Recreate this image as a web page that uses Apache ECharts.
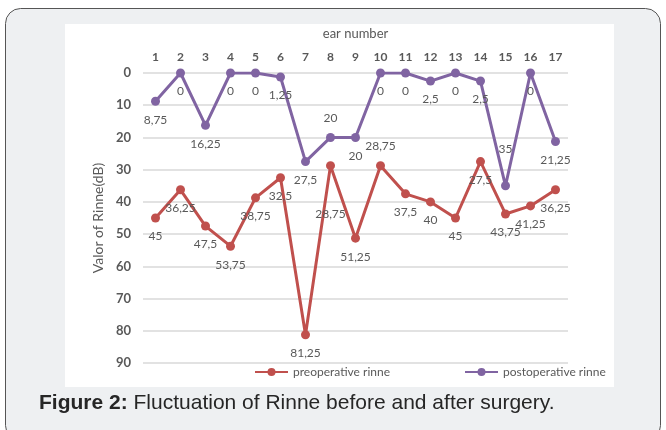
<!DOCTYPE html>
<html>
<head>
<meta charset="utf-8">
<script src="https://cdn.jsdelivr.net/npm/echarts@6/dist/echarts.min.js"></script>
<style>
  html, body { margin: 0; padding: 0; background: #fff; }
  #chart { width: 666px; height: 430px; }
</style>
</head>
<body>
<div id="chart"></div>
<script>
'use strict';

// ear number 1..17
var earNumbers = ['1', '2', '3', '4', '5', '6', '7', '8', '9', '10', '11', '12', '13', '14', '15', '16', '17'];
var preRinne = [45, 36.25, 47.5, 53.75, 38.75, 32.5, 81.25, 28.75, 51.25, 28.75, 37.5, 40, 45, 27.5, 43.75, 41.25, 36.25];
var postRinne = [8.75, 0, 16.25, 0, 0, 1.25, 27.5, 20, 20, 0, 0, 2.5, 0, 2.5, 35, 0, 21.25];
var yTicks = [0, 10, 20, 30, 40, 50, 60, 70, 80, 90];

// labels that sit above their point (everything else is below)
var preLabelsAbove = [9];
var postLabelsAbove = [7, 14];
// a few labels sit further off their point, like in the original
var preLabelGap = { 7: 38 };
var postLabelGap = { 14: 26 };

var chart = echarts.init(document.getElementById('chart'));

var labelText = '#595959';
var font = 'Lato, "Open Sans", sans-serif';
var capFont = '"Liberation Sans", Arial, sans-serif';

function fmt(v) {
    return String(v).replace('.', ',');
}

function withLabels(values, above, gaps) {
    return values.map(function(v, i) {
        var up = above.indexOf(i) >= 0;
        var d = gaps[i] !== undefined ? gaps[i] : (up ? 9 : 8);
        return {
            value: v,
            label: { position: up ? 'top' : 'bottom', distance: d }
        };
    });
}

var option = {
    animation: false,
    backgroundColor: '#ffffff',
    textStyle: { fontFamily: font },
    graphic: [
        {
            type: 'rect', z: -10, silent: true,
            shape: { x: 5.5, y: 8.5, width: 655, height: 432, r: 15 },
            style: { fill: '#eef0f2', stroke: '#555', lineWidth: 1 }
        },
        {
            type: 'rect', z: -9, silent: true,
            shape: { x: 65, y: 24, width: 549, height: 363 },
            style: { fill: '#ffffff' }
        },
        {
            type: 'text', left: 39, top: 393, silent: true,
            style: {
                text: '{b|Figure 2:} Fluctuation of Rinne before and after surgery.',
                fill: '#262626',
                font: '21px ' + capFont,
                rich: {
                    b: { fontWeight: 'bold', fontSize: 21, fontFamily: capFont, fill: '#262626' }
                }
            }
        }
    ],
    grid: { left: 143, right: 98, top: 73, bottom: 67 },
    legend: {
        left: 249, top: 361,
        itemWidth: 33, itemHeight: 10, itemGap: 74,
        textStyle: { color: labelText, fontSize: 12, fontFamily: font },
        data: ['preoperative rinne', 'postoperative rinne']
    },
    xAxis: {
        type: 'category',
        position: 'top',
        data: earNumbers,
        boundaryGap: true,
        name: 'ear number',
        nameLocation: 'middle',
        nameGap: 33,
        nameTextStyle: { color: labelText, fontSize: 13, fontFamily: font },
        axisLine: { show: false },
        axisTick: { show: false },
        axisLabel: { color: labelText, fontSize: 12, fontWeight: 'bold', margin: 10, fontFamily: font }
    },
    yAxis: {
        type: 'value',
        inverse: true,
        min: yTicks[0],
        max: yTicks[yTicks.length - 1],
        interval: 10,
        name: 'Valor of Rinne(dB)',
        nameLocation: 'middle',
        nameGap: 36,
        nameTextStyle: { color: labelText, fontSize: 14, fontFamily: font },
        axisLine: { show: false },
        axisTick: { show: false },
        axisLabel: { color: labelText, fontSize: 13, fontWeight: 'bold', margin: 12, fontFamily: font },
        splitLine: { lineStyle: { color: '#d9d9d9', width: 1.5 } }
    },
    series: [
        {
            name: 'preoperative rinne',
            type: 'line',
            data: withLabels(preRinne, preLabelsAbove, preLabelGap),
            symbol: 'circle',
            symbolSize: 9,
            itemStyle: { color: '#c0504d' },
            lineStyle: { width: 3, color: '#c0504d' },
            label: {
                show: true, color: labelText, fontSize: 12, fontFamily: font,
                formatter: function(p) { return fmt(p.value); }
            }
        },
        {
            name: 'postoperative rinne',
            type: 'line',
            data: withLabels(postRinne, postLabelsAbove, postLabelGap),
            symbol: 'circle',
            symbolSize: 9,
            itemStyle: { color: '#8064a2' },
            lineStyle: { width: 3, color: '#8064a2' },
            label: {
                show: true, color: labelText, fontSize: 12, fontFamily: font,
                formatter: function(p) { return fmt(p.value); }
            }
        }
    ]
};

chart.setOption(option);
</script>
</body>
</html>
